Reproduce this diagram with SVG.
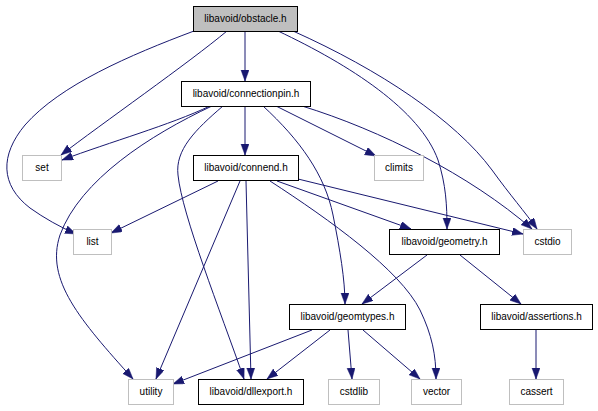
<svg xmlns="http://www.w3.org/2000/svg" width="598" height="411" viewBox="0 0 598 411">
<style>
.n rect{fill:#ffffff;stroke:#000000;stroke-width:1}
.s rect{fill:#ffffff;stroke:#bfbfbf;stroke-width:1}
.root rect{fill:#bfbfbf;stroke:#000000;stroke-width:1}
text{font-family:"Liberation Sans",Arial,Helvetica,sans-serif;font-size:10px;fill:#000000;text-anchor:middle}
.e path{fill:none;stroke:#191970;stroke-width:1;marker-end:url(#arr)}
</style>
<defs>
<marker id="arr" markerUnits="userSpaceOnUse" markerWidth="12" markerHeight="10" refX="11" refY="4" orient="auto">
<path d="M0,0 L11,4 L0,8 z" fill="#191970" stroke="#191970" stroke-width="0.5"/>
</marker>
</defs>
<rect width="598" height="411" fill="#ffffff"/>
<g id="edges" class="e">
<path d="M245,31 L245,81"/>
<path d="M194,31 C130,55 60,85 25,125 C0,155 0,185 30,208 C44,218 60,227 76,234"/>
<path d="M227,31 C190,62 100,125 61,155"/>
<path d="M278,31 C350,65 420,110 438,160 C446,185 447,205 447,229"/>
<path d="M293,31 C380,70 455,120 492,170 C510,195 525,212 537,229"/>
<path d="M302,106 C380,130 470,175 532,229"/>
<path d="M276,106 L376,156"/>
<path d="M245,106 L245,155"/>
<path d="M263,106 C300,140 325,175 333,215 C340,250 345,280 345,304"/>
<path d="M210,106 C170,125 110,142 62,160"/>
<path d="M212,106 C150,135 80,180 60,235 C45,280 80,320 133,379"/>
<path d="M223,106 C195,130 175,150 178,175 C182,215 220,310 244,379"/>
<path d="M218,181 L111,233"/>
<path d="M240,181 L156,379"/>
<path d="M246,181 L251,379"/>
<path d="M277,181 L411,229"/>
<path d="M270,181 C330,220 400,270 420,310 C432,335 436,355 436,379"/>
<path d="M298,179 L523,234"/>
<path d="M427,255 L362,304"/>
<path d="M460,255 L521,304"/>
<path d="M312,330 L173,384"/>
<path d="M330,330 L267,379"/>
<path d="M348,330 L352,379"/>
<path d="M363,330 L420,379"/>
<path d="M536,330 L536,379"/>
</g>
<g id="obstacle" class="root"><rect x="193.5" y="6.5" width="104" height="25"/><text x="245.5" y="22">libavoid/obstacle.h</text></g>
<g id="connectionpin" class="n"><rect x="181.5" y="81.5" width="129" height="25"/><text x="246" y="97">libavoid/connectionpin.h</text></g>
<g id="set" class="s"><rect x="22.5" y="155.5" width="39" height="25"/><text x="42" y="171">set</text></g>
<g id="connend" class="n"><rect x="193.5" y="155.5" width="105" height="25"/><text x="246" y="171">libavoid/connend.h</text></g>
<g id="climits" class="s"><rect x="374.5" y="155.5" width="49" height="25"/><text x="399" y="171">climits</text></g>
<g id="list" class="s"><rect x="73.5" y="229.5" width="38" height="25"/><text x="92.5" y="245">list</text></g>
<g id="geometry" class="n"><rect x="389.5" y="229.5" width="110" height="25"/><text x="444.5" y="245">libavoid/geometry.h</text></g>
<g id="cstdio" class="s"><rect x="523.5" y="229.5" width="48" height="25"/><text x="547.5" y="245">cstdio</text></g>
<g id="geomtypes" class="n"><rect x="289.5" y="304.5" width="116" height="25"/><text x="347.5" y="320">libavoid/geomtypes.h</text></g>
<g id="assertions" class="n"><rect x="480.5" y="304.5" width="112" height="25"/><text x="536.5" y="320">libavoid/assertions.h</text></g>
<g id="utility" class="s"><rect x="128.5" y="379.5" width="45" height="25"/><text x="151" y="395">utility</text></g>
<g id="dllexport" class="n"><rect x="198.5" y="379.5" width="105" height="25"/><text x="251" y="395">libavoid/dllexport.h</text></g>
<g id="cstdlib" class="s"><rect x="328.5" y="379.5" width="51" height="25"/><text x="354" y="395">cstdlib</text></g>
<g id="vector" class="s"><rect x="411.5" y="379.5" width="50" height="25"/><text x="436.5" y="395">vector</text></g>
<g id="cassert" class="s"><rect x="509.5" y="379.5" width="54" height="25"/><text x="536.5" y="395">cassert</text></g>
</svg>
